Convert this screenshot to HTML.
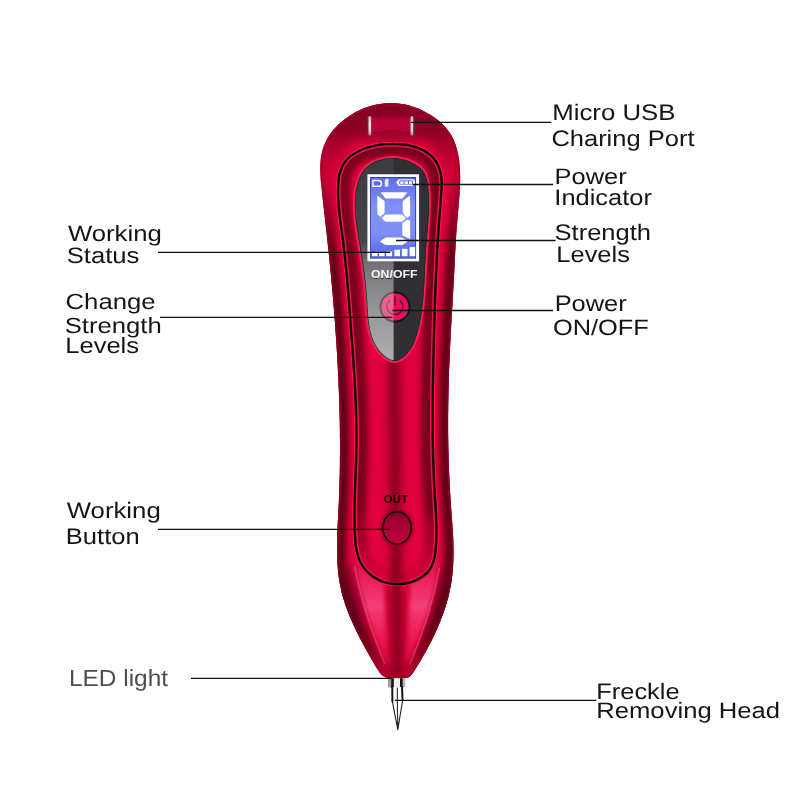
<!DOCTYPE html>
<html><head><meta charset="utf-8">
<style>
html,body{margin:0;padding:0;background:#fff;}
body{width:800px;height:800px;position:relative;overflow:hidden;font-family:"Liberation Sans",sans-serif;}
svg{position:absolute;left:0;top:0;}
.t{position:absolute;white-space:nowrap;color:#1c1c1c;transform-origin:0 0;line-height:1;}
</style></head><body>
<svg width="800" height="800" viewBox="0 0 800 800">
<defs>
<path id="pb" d="M391.0,103.1 C388.6,103.1 386.3,103.2 383.9,103.5 C381.6,103.7 379.2,104.1 376.9,104.5 C374.6,105.0 372.3,105.6 370.1,106.3 C367.8,107.0 365.6,107.8 363.4,108.6 C361.2,109.5 359.0,110.5 356.9,111.6 C354.8,112.7 352.7,113.9 350.7,115.2 C348.7,116.4 346.7,117.8 344.8,119.2 C342.9,120.6 341.1,122.1 339.3,123.7 C337.6,125.3 335.9,127.0 334.4,128.7 C332.8,130.5 331.3,132.4 330.0,134.3 C328.7,136.2 327.4,138.3 326.4,140.4 C325.3,142.5 324.3,144.7 323.5,146.9 C322.7,149.2 322.1,151.5 321.6,153.7 C321.1,156.0 320.8,158.3 320.6,160.7 C320.3,163.0 320.3,165.4 320.2,167.7 C320.2,170.1 320.3,172.5 320.4,174.8 C320.5,177.2 320.7,179.6 320.9,182.0 C321.2,184.4 321.4,186.7 321.7,189.1 C321.9,191.5 322.2,193.9 322.4,196.2 C322.7,198.6 322.9,200.9 323.2,203.3 C323.5,205.6 323.7,208.0 324.0,210.3 C324.3,212.7 324.5,215.0 324.8,217.4 C325.1,219.7 325.3,222.0 325.6,224.4 C325.9,226.7 326.1,229.1 326.4,231.4 C326.6,233.8 326.9,236.1 327.2,238.5 C327.4,240.8 327.7,243.2 327.9,245.5 C328.2,247.9 328.4,250.2 328.7,252.6 C328.9,254.9 329.1,257.3 329.4,259.6 C329.6,262.0 329.8,264.3 330.1,266.7 C330.3,269.1 330.5,271.4 330.8,273.8 C331.0,276.1 331.2,278.5 331.4,280.9 C331.6,283.2 331.9,285.6 332.1,287.9 C332.3,290.3 332.5,292.7 332.7,295.0 C332.9,297.4 333.1,299.7 333.3,302.1 C333.5,304.5 333.7,306.8 333.9,309.2 C334.1,311.6 334.3,313.9 334.5,316.3 C334.6,318.7 334.8,321.0 335.0,323.4 C335.2,325.7 335.3,328.1 335.5,330.5 C335.7,332.8 335.8,335.2 336.0,337.6 C336.2,339.9 336.3,342.3 336.5,344.7 C336.6,347.0 336.8,349.4 336.9,351.7 C337.0,354.1 337.2,356.5 337.3,358.8 C337.5,361.2 337.6,363.6 337.7,365.9 C337.8,368.3 338.0,370.6 338.1,373.0 C338.2,375.4 338.3,377.7 338.4,380.1 C338.5,382.4 338.6,384.8 338.7,387.2 C338.8,389.5 338.9,391.9 339.0,394.2 C339.1,396.6 339.2,399.0 339.2,401.3 C339.3,403.7 339.4,406.1 339.4,408.4 C339.5,410.8 339.6,413.1 339.6,415.5 C339.7,417.9 339.7,420.2 339.8,422.6 C339.8,424.9 339.8,427.3 339.9,429.7 C339.9,432.0 339.9,434.4 339.9,436.8 C340.0,439.1 340.0,441.5 340.0,443.9 C340.0,446.2 340.0,448.6 340.0,450.9 C340.0,453.3 340.0,455.7 339.9,458.0 C339.9,460.4 339.9,462.8 339.9,465.1 C339.8,467.5 339.8,469.9 339.8,472.2 C339.7,474.6 339.7,477.0 339.6,479.4 C339.5,481.7 339.5,484.1 339.4,486.5 C339.3,488.8 339.2,491.2 339.2,493.6 C339.1,496.0 339.0,498.3 338.9,500.7 C338.8,503.1 338.7,505.5 338.5,507.8 C338.4,510.2 338.3,512.6 338.2,515.0 C338.1,517.4 337.9,519.7 337.8,522.1 C337.7,524.5 337.6,526.9 337.5,529.2 C337.4,531.6 337.3,534.0 337.2,536.4 C337.1,538.7 337.1,541.1 337.1,543.5 C337.0,545.8 337.0,548.2 337.0,550.6 C337.1,552.9 337.1,555.3 337.2,557.6 C337.3,560.0 337.4,562.3 337.5,564.7 C337.7,567.0 337.9,569.4 338.1,571.7 C338.4,574.0 338.7,576.3 339.0,578.7 C339.4,581.0 339.7,583.3 340.2,585.6 C340.7,587.9 341.2,590.2 341.7,592.5 C342.3,594.8 342.9,597.1 343.6,599.3 C344.3,601.6 345.1,603.9 345.8,606.1 C346.6,608.4 347.5,610.6 348.3,612.8 C349.2,615.1 350.1,617.3 351.1,619.5 C352.0,621.7 353.0,623.9 354.0,626.0 C355.0,628.2 356.0,630.3 357.1,632.4 C358.1,634.6 359.2,636.7 360.2,638.8 C361.3,640.9 362.4,642.9 363.5,645.0 C364.6,647.1 365.7,649.1 366.8,651.1 C368.0,653.2 369.1,655.2 370.3,657.3 C371.5,659.3 372.7,661.4 373.9,663.4 C375.2,665.5 376.4,667.7 377.7,669.6 C379.0,671.6 380.2,673.9 382.0,675.3 C383.7,676.7 386.0,677.5 388.2,678.0 C390.4,678.6 393.0,678.6 395.4,678.6 C397.8,678.7 400.3,678.7 402.6,678.5 C404.9,678.2 407.4,678.2 409.3,677.1 C411.1,675.9 412.3,673.5 413.7,671.7 C415.1,669.8 416.3,667.7 417.5,665.7 C418.8,663.7 420.0,661.7 421.2,659.7 C422.4,657.6 423.6,655.6 424.7,653.5 C425.9,651.4 427.0,649.3 428.1,647.2 C429.3,645.1 430.3,643.0 431.4,640.9 C432.5,638.8 433.5,636.7 434.5,634.5 C435.5,632.4 436.5,630.2 437.5,628.0 C438.4,625.8 439.3,623.7 440.2,621.5 C441.1,619.3 442.0,617.0 442.8,614.8 C443.6,612.6 444.3,610.4 445.1,608.1 C445.8,605.9 446.5,603.6 447.1,601.3 C447.8,599.1 448.4,596.8 448.9,594.5 C449.5,592.2 450.0,589.9 450.4,587.6 C450.9,585.2 451.3,582.9 451.6,580.6 C452.0,578.2 452.2,575.9 452.5,573.5 C452.7,571.2 452.9,568.8 453.1,566.4 C453.2,564.1 453.3,561.7 453.4,559.3 C453.5,557.0 453.5,554.6 453.5,552.2 C453.5,549.9 453.5,547.5 453.4,545.1 C453.4,542.8 453.3,540.4 453.2,538.0 C453.1,535.7 452.9,533.3 452.8,531.0 C452.6,528.6 452.5,526.2 452.3,523.9 C452.1,521.5 452.0,519.2 451.8,516.8 C451.6,514.4 451.4,512.1 451.3,509.7 C451.1,507.4 450.9,505.0 450.8,502.6 C450.6,500.3 450.4,497.9 450.3,495.6 C450.1,493.2 450.0,490.8 449.9,488.5 C449.7,486.1 449.6,483.7 449.5,481.4 C449.4,479.0 449.3,476.6 449.2,474.3 C449.1,471.9 449.0,469.5 448.9,467.2 C448.8,464.8 448.7,462.4 448.7,460.1 C448.6,457.7 448.5,455.3 448.5,453.0 C448.4,450.6 448.3,448.2 448.3,445.9 C448.3,443.5 448.2,441.1 448.2,438.8 C448.2,436.4 448.1,434.0 448.1,431.7 C448.1,429.3 448.1,426.9 448.1,424.6 C448.1,422.2 448.1,419.8 448.1,417.5 C448.1,415.1 448.1,412.7 448.2,410.4 C448.2,408.0 448.2,405.6 448.3,403.3 C448.3,400.9 448.3,398.5 448.4,396.2 C448.4,393.8 448.5,391.4 448.5,389.1 C448.6,386.7 448.7,384.3 448.7,382.0 C448.8,379.6 448.9,377.2 448.9,374.9 C449.0,372.5 449.1,370.2 449.2,367.8 C449.3,365.4 449.4,363.1 449.5,360.7 C449.6,358.3 449.7,356.0 449.8,353.6 C449.9,351.2 450.0,348.9 450.1,346.5 C450.2,344.1 450.3,341.8 450.5,339.4 C450.6,337.0 450.7,334.7 450.8,332.3 C451.0,330.0 451.1,327.6 451.2,325.2 C451.4,322.9 451.5,320.5 451.6,318.1 C451.8,315.8 451.9,313.4 452.0,311.0 C452.2,308.7 452.3,306.3 452.5,303.9 C452.6,301.6 452.7,299.2 452.9,296.9 C453.0,294.5 453.1,292.1 453.3,289.8 C453.4,287.4 453.5,285.0 453.7,282.7 C453.8,280.3 453.9,277.9 454.0,275.6 C454.2,273.2 454.3,270.9 454.4,268.5 C454.5,266.1 454.6,263.8 454.7,261.4 C454.9,259.0 455.0,256.7 455.1,254.3 C455.2,252.0 455.3,249.6 455.5,247.2 C455.6,244.9 455.7,242.5 455.9,240.2 C456.0,237.8 456.2,235.4 456.3,233.1 C456.5,230.7 456.7,228.3 456.9,226.0 C457.1,223.6 457.3,221.3 457.5,218.9 C457.7,216.5 457.9,214.2 458.1,211.8 C458.3,209.4 458.5,207.1 458.7,204.7 C458.9,202.4 459.1,200.0 459.3,197.6 C459.5,195.3 459.6,192.9 459.7,190.5 C459.9,188.2 460.0,185.8 460.1,183.5 C460.1,181.1 460.2,178.7 460.2,176.4 C460.2,174.0 460.1,171.7 460.0,169.3 C459.9,167.0 459.7,164.6 459.4,162.3 C459.1,159.9 458.8,157.6 458.3,155.3 C457.9,153.0 457.3,150.6 456.7,148.3 C456.0,146.0 455.3,143.7 454.3,141.5 C453.4,139.3 452.4,137.2 451.2,135.1 C450.0,133.1 448.7,131.2 447.2,129.4 C445.7,127.5 444.1,125.8 442.4,124.2 C440.7,122.6 438.9,121.1 437.1,119.6 C435.2,118.1 433.3,116.8 431.3,115.5 C429.3,114.2 427.2,113.0 425.1,111.9 C423.0,110.8 420.8,109.8 418.6,108.8 C416.4,107.9 414.2,107.1 411.9,106.4 C409.7,105.7 407.4,105.1 405.0,104.6 C402.7,104.1 400.4,103.8 398.0,103.5 C395.7,103.3 393.3,103.1 391.0,103.1Z"/>
<path id="pg" d="M395.0,144.1 C392.4,144.0 389.7,144.0 387.1,144.1 C384.5,144.3 382.0,144.5 379.4,144.8 C376.9,145.2 374.3,145.6 371.9,146.3 C369.4,146.9 366.9,147.6 364.5,148.5 C362.1,149.4 359.8,150.5 357.5,151.7 C355.2,152.9 353.0,154.3 350.9,155.9 C348.9,157.5 347.0,159.3 345.5,161.2 C343.9,163.1 342.7,165.2 341.7,167.5 C340.7,169.7 340.0,172.1 339.4,174.6 C338.9,177.0 338.6,179.6 338.4,182.2 C338.1,184.8 338.1,187.4 338.0,190.0 C338.0,192.5 338.0,195.1 338.1,197.7 C338.2,200.3 338.4,202.8 338.6,205.4 C338.8,207.9 339.1,210.5 339.3,213.0 C339.6,215.6 339.9,218.1 340.3,220.7 C340.6,223.2 340.9,225.7 341.3,228.3 C341.6,230.8 342.0,233.3 342.3,235.9 C342.7,238.4 343.0,240.9 343.3,243.5 C343.6,246.0 343.9,248.5 344.2,251.1 C344.5,253.6 344.8,256.2 345.1,258.7 C345.3,261.2 345.6,263.8 345.8,266.3 C346.1,268.9 346.3,271.4 346.6,273.9 C346.8,276.5 347.0,279.0 347.3,281.6 C347.5,284.1 347.7,286.7 347.9,289.2 C348.1,291.7 348.3,294.3 348.5,296.8 C348.7,299.4 348.9,301.9 349.1,304.5 C349.3,307.0 349.5,309.6 349.7,312.1 C349.9,314.7 350.1,317.2 350.3,319.8 C350.5,322.3 350.7,324.9 350.8,327.4 C351.0,330.0 351.2,332.5 351.4,335.1 C351.6,337.6 351.8,340.2 352.0,342.7 C352.2,345.3 352.4,347.9 352.6,350.4 C352.7,353.0 352.9,355.5 353.1,358.1 C353.3,360.6 353.5,363.2 353.6,365.8 C353.8,368.3 354.0,370.9 354.1,373.4 C354.3,376.0 354.5,378.5 354.6,381.1 C354.7,383.6 354.9,386.2 355.0,388.8 C355.2,391.3 355.3,393.9 355.4,396.4 C355.5,399.0 355.6,401.5 355.7,404.1 C355.8,406.7 355.9,409.2 356.0,411.8 C356.1,414.3 356.2,416.9 356.2,419.4 C356.3,422.0 356.3,424.5 356.4,427.1 C356.4,429.6 356.4,432.2 356.4,434.8 C356.4,437.3 356.4,439.9 356.4,442.4 C356.4,445.0 356.4,447.5 356.3,450.1 C356.3,452.6 356.2,455.2 356.1,457.7 C356.1,460.3 356.0,462.8 355.9,465.3 C355.8,467.9 355.7,470.4 355.6,473.0 C355.5,475.5 355.4,478.1 355.3,480.6 C355.2,483.2 355.1,485.7 355.0,488.3 C354.9,490.8 354.8,493.4 354.7,496.0 C354.6,498.5 354.6,501.1 354.5,503.6 C354.5,506.2 354.4,508.8 354.4,511.3 C354.4,513.9 354.4,516.5 354.4,519.0 C354.4,521.6 354.5,524.2 354.5,526.8 C354.6,529.3 354.7,531.9 354.9,534.5 C355.0,537.1 355.2,539.7 355.4,542.3 C355.7,544.8 356.0,547.4 356.5,549.8 C357.0,552.3 357.5,554.8 358.3,557.1 C359.2,559.4 360.1,561.7 361.3,563.9 C362.5,566.0 363.9,568.1 365.6,570.0 C367.3,571.8 369.2,573.6 371.2,575.2 C373.3,576.8 375.5,578.2 377.8,579.4 C380.2,580.6 382.6,581.6 385.1,582.4 C387.6,583.1 390.2,583.7 392.8,584.0 C395.3,584.3 397.9,584.3 400.5,584.2 C403.1,584.0 405.6,583.6 408.1,583.0 C410.6,582.4 413.1,581.6 415.4,580.6 C417.8,579.5 420.1,578.3 422.2,576.8 C424.3,575.4 426.3,573.7 427.9,571.9 C429.5,570.0 430.8,567.9 431.9,565.8 C433.0,563.6 433.7,561.2 434.3,558.8 C435.0,556.4 435.3,553.8 435.6,551.2 C435.9,548.7 436.0,546.0 436.2,543.4 C436.3,540.8 436.4,538.2 436.4,535.7 C436.4,533.1 436.4,530.5 436.4,527.9 C436.4,525.4 436.3,522.8 436.2,520.3 C436.1,517.7 436.0,515.2 435.9,512.6 C435.8,510.1 435.6,507.5 435.5,505.0 C435.3,502.4 435.1,499.9 435.0,497.4 C434.8,494.8 434.7,492.3 434.5,489.7 C434.4,487.2 434.2,484.7 434.1,482.1 C434.0,479.6 433.9,477.0 433.8,474.5 C433.6,471.9 433.5,469.4 433.5,466.8 C433.4,464.3 433.3,461.7 433.2,459.2 C433.1,456.6 433.1,454.0 433.0,451.5 C432.9,448.9 432.9,446.4 432.9,443.8 C432.8,441.2 432.8,438.7 432.7,436.1 C432.7,433.5 432.7,431.0 432.7,428.4 C432.7,425.8 432.7,423.3 432.7,420.7 C432.7,418.1 432.7,415.6 432.7,413.0 C432.7,410.4 432.7,407.9 432.7,405.3 C432.7,402.7 432.7,400.2 432.8,397.6 C432.8,395.0 432.8,392.5 432.9,389.9 C432.9,387.3 432.9,384.8 433.0,382.2 C433.0,379.6 433.1,377.1 433.1,374.5 C433.2,372.0 433.2,369.4 433.3,366.8 C433.3,364.3 433.4,361.7 433.4,359.2 C433.5,356.6 433.6,354.1 433.6,351.5 C433.7,348.9 433.7,346.4 433.8,343.8 C433.9,341.3 433.9,338.7 434.0,336.2 C434.1,333.7 434.1,331.1 434.2,328.6 C434.3,326.0 434.3,323.5 434.4,320.9 C434.5,318.4 434.6,315.9 434.6,313.3 C434.7,310.8 434.8,308.2 434.9,305.7 C435.0,303.1 435.0,300.6 435.1,298.1 C435.2,295.5 435.3,293.0 435.4,290.4 C435.5,287.9 435.6,285.4 435.7,282.8 C435.8,280.3 435.9,277.7 436.0,275.2 C436.1,272.6 436.3,270.1 436.4,267.5 C436.5,265.0 436.6,262.4 436.8,259.9 C436.9,257.3 437.0,254.8 437.2,252.2 C437.3,249.7 437.4,247.1 437.6,244.5 C437.7,242.0 437.9,239.4 438.1,236.8 C438.2,234.3 438.4,231.7 438.6,229.1 C438.7,226.6 438.9,224.0 439.1,221.4 C439.3,218.8 439.5,216.2 439.7,213.6 C439.9,211.1 440.1,208.5 440.3,205.9 C440.5,203.3 440.7,200.7 440.9,198.1 C441.1,195.5 441.4,192.9 441.5,190.3 C441.6,187.7 441.8,185.1 441.7,182.6 C441.6,180.1 441.5,177.6 441.1,175.2 C440.7,172.8 440.2,170.4 439.3,168.1 C438.5,165.8 437.4,163.6 436.0,161.5 C434.6,159.5 432.9,157.5 431.0,155.7 C429.2,154.0 427.1,152.4 424.9,151.1 C422.8,149.7 420.4,148.7 418.0,147.8 C415.7,146.9 413.2,146.2 410.6,145.7 C408.1,145.1 405.5,144.8 402.9,144.5 C400.3,144.2 397.6,144.1 395.0,144.1Z"/>
<path id="pp" d="M393.8,158.0 C392.0,158.0 390.2,158.0 388.4,158.2 C386.6,158.4 384.8,158.7 383.0,159.1 C381.2,159.5 379.4,160.0 377.7,160.6 C376.0,161.3 374.3,162.0 372.8,162.8 C371.2,163.7 369.7,164.6 368.3,165.7 C366.9,166.7 365.6,167.9 364.5,169.2 C363.4,170.5 362.4,171.9 361.5,173.4 C360.6,174.8 359.9,176.4 359.3,178.0 C358.6,179.6 358.1,181.3 357.6,182.9 C357.1,184.6 356.7,186.3 356.4,188.0 C356.0,189.7 355.8,191.4 355.5,193.1 C355.3,194.8 355.2,196.5 355.0,198.3 C354.9,200.0 354.9,201.7 354.9,203.5 C354.8,205.2 354.9,207.0 354.9,208.7 C355.0,210.5 355.1,212.2 355.3,214.0 C355.4,215.8 355.6,217.5 355.8,219.3 C355.9,221.1 356.2,222.8 356.4,224.6 C356.6,226.4 356.9,228.1 357.2,229.9 C357.4,231.6 357.7,233.4 358.0,235.2 C358.3,236.9 358.5,238.7 358.8,240.4 C359.1,242.2 359.4,243.9 359.7,245.7 C359.9,247.4 360.2,249.1 360.5,250.9 C360.8,252.6 361.0,254.3 361.3,256.1 C361.6,257.8 361.8,259.5 362.1,261.3 C362.3,263.0 362.6,264.7 362.8,266.4 C363.1,268.1 363.3,269.9 363.5,271.6 C363.8,273.3 364.0,275.0 364.2,276.8 C364.4,278.5 364.6,280.2 364.8,281.9 C365.0,283.7 365.2,285.4 365.3,287.1 C365.5,288.9 365.7,290.6 365.8,292.3 C366.0,294.1 366.1,295.8 366.2,297.6 C366.4,299.3 366.5,301.1 366.6,302.8 C366.7,304.6 366.7,306.3 366.9,308.1 C367.0,309.9 367.1,311.6 367.2,313.4 C367.3,315.1 367.5,316.9 367.6,318.6 C367.8,320.4 368.0,322.1 368.3,323.9 C368.5,325.6 368.8,327.4 369.2,329.1 C369.5,330.8 369.9,332.5 370.4,334.2 C370.9,335.9 371.5,337.6 372.1,339.2 C372.7,340.8 373.4,342.4 374.2,344.0 C375.0,345.6 375.9,347.1 376.9,348.5 C377.9,350.0 379.0,351.4 380.2,352.7 C381.4,354.0 382.7,355.3 384.1,356.4 C385.5,357.6 387.1,358.7 388.6,359.4 C390.2,360.2 391.8,360.8 393.4,360.9 C395.0,361.1 396.6,360.9 398.1,360.4 C399.6,359.9 401.1,359.1 402.5,358.1 C403.9,357.1 405.3,355.8 406.5,354.4 C407.8,353.1 408.9,351.6 410.0,350.1 C411.0,348.5 411.9,347.0 412.8,345.4 C413.6,343.8 414.3,342.2 414.9,340.5 C415.6,338.9 416.2,337.3 416.7,335.6 C417.2,333.9 417.6,332.3 418.1,330.6 C418.5,328.9 418.9,327.2 419.3,325.5 C419.6,323.8 420.0,322.1 420.3,320.4 C420.6,318.7 420.9,317.0 421.2,315.3 C421.5,313.5 421.7,311.8 421.9,310.1 C422.2,308.4 422.4,306.6 422.6,304.9 C422.8,303.2 422.9,301.4 423.1,299.7 C423.3,297.9 423.4,296.2 423.6,294.4 C423.7,292.7 423.8,290.9 423.9,289.2 C424.0,287.4 424.2,285.7 424.3,283.9 C424.4,282.2 424.4,280.4 424.5,278.6 C424.6,276.9 424.7,275.1 424.8,273.4 C424.9,271.6 425.0,269.8 425.0,268.1 C425.1,266.3 425.2,264.6 425.3,262.8 C425.4,261.0 425.5,259.3 425.6,257.5 C425.7,255.8 425.8,254.0 425.9,252.3 C426.0,250.5 426.1,248.7 426.2,247.0 C426.4,245.2 426.5,243.5 426.6,241.8 C426.8,240.0 426.9,238.3 427.1,236.5 C427.2,234.8 427.4,233.0 427.5,231.3 C427.7,229.5 427.8,227.8 427.9,226.1 C428.1,224.3 428.2,222.6 428.3,220.8 C428.4,219.1 428.5,217.3 428.6,215.6 C428.7,213.9 428.8,212.1 428.8,210.4 C428.9,208.6 428.9,206.9 428.9,205.1 C428.9,203.3 428.9,201.6 428.9,199.8 C428.8,198.1 428.8,196.3 428.7,194.5 C428.6,192.8 428.5,191.0 428.3,189.2 C428.1,187.5 428.0,185.7 427.7,183.9 C427.4,182.1 427.2,180.4 426.7,178.7 C426.2,177.0 425.7,175.4 424.9,173.9 C424.2,172.4 423.2,170.9 422.1,169.7 C421.0,168.4 419.5,167.3 418.1,166.2 C416.7,165.2 415.1,164.3 413.6,163.4 C412.0,162.6 410.4,161.8 408.8,161.2 C407.2,160.5 405.6,160.0 404.0,159.5 C402.4,159.1 400.7,158.7 399.0,158.4 C397.3,158.2 395.6,158.0 393.8,158.0Z"/>
<clipPath id="cb"><use href="#pb"/></clipPath>
<clipPath id="cg"><use href="#pg"/></clipPath>
<clipPath id="cp"><use href="#pp"/></clipPath>
<clipPath id="cbtn"><circle cx="395" cy="307" r="15.4"/></clipPath>
<clipPath id="cpl"><rect x="300" y="100" width="93.8" height="300"/></clipPath>
<filter id="b2" filterUnits="userSpaceOnUse" x="0" y="0" width="800" height="800"><feGaussianBlur stdDeviation="2"/></filter>
<filter id="b3" filterUnits="userSpaceOnUse" x="0" y="0" width="800" height="800"><feGaussianBlur stdDeviation="3"/></filter>
<filter id="b4" filterUnits="userSpaceOnUse" x="0" y="0" width="800" height="800"><feGaussianBlur stdDeviation="4"/></filter>
<filter id="b5" filterUnits="userSpaceOnUse" x="0" y="0" width="800" height="800"><feGaussianBlur stdDeviation="5"/></filter>
<filter id="b1" filterUnits="userSpaceOnUse" x="0" y="0" width="800" height="800"><feGaussianBlur stdDeviation="1"/></filter>
<filter id="b05" filterUnits="userSpaceOnUse" x="0" y="0" width="800" height="800"><feGaussianBlur stdDeviation="0.5"/></filter>
<linearGradient id="edgefade" gradientUnits="userSpaceOnUse" x1="0" y1="150" x2="0" y2="680">
<stop offset="0" stop-color="#5c0012" stop-opacity="0"/><stop offset="0.2075" stop-color="#5c0012" stop-opacity="1"/><stop offset="0.9" stop-color="#5c0012" stop-opacity="1"/><stop offset="1" stop-color="#5c0012" stop-opacity="0.2"/>
</linearGradient>
<linearGradient id="headfade" gradientUnits="userSpaceOnUse" x1="0" y1="122" x2="0" y2="176">
<stop offset="0" stop-color="#820020" stop-opacity="1"/><stop offset="1" stop-color="#820020" stop-opacity="0"/>
</linearGradient>
<linearGradient id="facet" gradientUnits="userSpaceOnUse" x1="0" y1="556" x2="0" y2="668">
<stop offset="0" stop-color="#f03a74" stop-opacity="0"/><stop offset="0.2" stop-color="#f23c76" stop-opacity="0.55"/><stop offset="0.45" stop-color="#f5427c" stop-opacity="0.95"/><stop offset="0.75" stop-color="#f0205c" stop-opacity="0.7"/><stop offset="1" stop-color="#e80c48" stop-opacity="0.3"/>
</linearGradient>
<linearGradient id="outg" x1="0" y1="0" x2="0" y2="1">
<stop offset="0" stop-color="#8a002c"/><stop offset="0.5" stop-color="#ad0036"/><stop offset="1" stop-color="#c2003c"/>
</linearGradient>
<linearGradient id="usbbar" x1="0" y1="0" x2="0" y2="1">
<stop offset="0" stop-color="#e9aab8"/><stop offset="0.45" stop-color="#f6e6ea"/><stop offset="0.8" stop-color="#e8c4cc"/><stop offset="1" stop-color="#9a8088"/>
</linearGradient>
<linearGradient id="ginner" gradientUnits="userSpaceOnUse" x1="0" y1="505" x2="0" y2="575">
<stop offset="0" stop-color="#78001c" stop-opacity="1"/><stop offset="1" stop-color="#78001c" stop-opacity="0.12"/>
</linearGradient>
<linearGradient id="tipdark" gradientUnits="userSpaceOnUse" x1="0" y1="566" x2="0" y2="678">
<stop offset="0" stop-color="#5c0012" stop-opacity="0.3"/><stop offset="0.3" stop-color="#5c0012" stop-opacity="0.5"/><stop offset="0.7" stop-color="#5c0012" stop-opacity="0.25"/><stop offset="1" stop-color="#5c0012" stop-opacity="0"/>
</linearGradient>
<linearGradient id="lcd" x1="0" y1="0" x2="0" y2="1">
<stop offset="0" stop-color="#5a6ee8"/><stop offset="0.35" stop-color="#7f90f8"/><stop offset="0.7" stop-color="#7c8df6"/><stop offset="1" stop-color="#5468e2"/>
</linearGradient>
<linearGradient id="pleft" gradientUnits="userSpaceOnUse" x1="0" y1="158" x2="0" y2="362">
<stop offset="0" stop-color="#fff" stop-opacity="0.06"/><stop offset="0.4" stop-color="#fff" stop-opacity="0.10"/><stop offset="0.52" stop-color="#fff" stop-opacity="0.32"/><stop offset="0.7" stop-color="#fff" stop-opacity="0.47"/><stop offset="1" stop-color="#fff" stop-opacity="0.62"/>
</linearGradient>
<radialGradient id="pbtn" cx="0.4" cy="0.45" r="0.6">
<stop offset="0" stop-color="#ff5a8a"/><stop offset="1" stop-color="#e0205c"/>
</radialGradient>
</defs>

<!-- body -->
<use href="#pb" fill="#e2003e"/>
<g clip-path="url(#cb)">
  <!-- head darkening -->
  <use href="#pb" fill="none" stroke="url(#headfade)" stroke-width="44" filter="url(#b5)"/>
  <ellipse cx="391" cy="124" rx="52" ry="19" fill="#8c0026" opacity="0.7" filter="url(#b5)"/>
  <!-- edge shading -->
  <use href="#pb" fill="none" stroke="url(#edgefade)" stroke-width="18" filter="url(#b3)"/>
  <use href="#pb" fill="none" stroke="#a00028" stroke-width="2.5" filter="url(#b1)"/>
  <!-- centre stripe -->
  <!-- tip outer dark facets -->
  <path d="M330,566 L355,566 Q364,612 388,668 L388,690 L330,690 Z" fill="url(#tipdark)" filter="url(#b3)"/>
  <path d="M462,566 L439,566 Q431,612 408,668 L408,690 L462,690 Z" fill="url(#tipdark)" filter="url(#b3)"/>
  <!-- lower pink facets -->
  <path d="M353,556 Q362,610 386,664 L391,664 Q384,620 383,556 Z" fill="url(#facet)" filter="url(#b2)"/>
  <path d="M441,556 Q432,610 409,664 L403.5,664 Q410,620 411,556 Z" fill="url(#facet)" filter="url(#b2)"/>
  <path d="M354.5,566 Q363,612 385,664" fill="none" stroke="#ff9fba" stroke-width="1.4" opacity="0.3" filter="url(#b05)"/>
  <path d="M439.5,568 Q431,614 410,664" fill="none" stroke="#ff9fba" stroke-width="1.4" opacity="0.3" filter="url(#b05)"/>
  <path d="M394,350 L395.5,520 L397.3,680" fill="none" stroke="#86001f" stroke-width="12" filter="url(#b4)"/>
</g>

<!-- groove -->
<use href="#pg" fill="none" stroke="#ff1a52" stroke-width="4.2"/>
<g clip-path="url(#cg)">
  <use href="#pg" fill="#e2003e"/>
  <use href="#pg" fill="none" stroke="url(#ginner)" stroke-width="24" filter="url(#b3)"/>
  <use href="#pg" fill="none" stroke="#ee124c" stroke-width="5.4"/>
  <path d="M394,350 L395.5,520 L397,600" fill="none" stroke="#86001f" stroke-width="12" filter="url(#b4)"/>
  <use href="#pp" fill="none" stroke="#ff1a55" stroke-width="4" filter="url(#b05)"/>
</g>
<use href="#pg" fill="none" stroke="#12000a" stroke-width="2.4"/>

<!-- panel -->
<use href="#pp" fill="#303034"/>
<g clip-path="url(#cp)">
  <rect x="340" y="150" width="53.6" height="215" fill="url(#pleft)"/>
  <use href="#pp" fill="none" stroke="#1d2a2a" stroke-width="1.6"/>
</g>

<!-- LCD -->
<rect x="367.4" y="174.3" width="51.7" height="87" fill="#ffffff"/>
<rect x="370.1" y="177" width="46" height="81.6" fill="#2a3bb4"/>
<rect x="371" y="177.9" width="44.2" height="79.8" fill="url(#lcd)"/>
<g fill="#ffffff">
  <!-- digit 9 -->
  <polygon points="380.6,192.3 407.4,192.3 402.4,198.6 385.4,198.6"/>
  <polygon points="377.3,195.4 384.6,201 384.6,213 380.5,217 377.3,214.2"/>
  <polygon points="410.1,195.4 410.1,215.5 407,218 402.7,213 402.7,201"/>
  <polygon points="381.5,218.2 385.4,214.6 402.2,214.6 406,218.2 402.2,221.8 385.4,221.8"/>
  <polygon points="410.1,220.5 410.1,239 402.3,235.2 402.3,223.4 407,219.4"/>
  <polygon points="379.8,241.4 385.7,237.5 402,237.5 407.6,241.4 402.5,245 385.5,245"/>
  <!-- bars -->
  <rect x="371.9" y="252.8" width="5.6" height="3.4"/>
  <rect x="379" y="252.8" width="5.6" height="3.4"/>
  <rect x="386.1" y="251.6" width="6" height="4.6"/>
  <rect x="394.4" y="249.7" width="5.6" height="6.5"/>
  <rect x="401.9" y="248.8" width="5.6" height="7.4"/>
  <rect x="409.6" y="247.1" width="5.6" height="9.1"/>
</g>
<!-- top icons -->
<path d="M373,180.5 H378.3 Q381.5,180.5 381.5,183.4 Q381.5,186.3 378.3,186.3 H373 Z" fill="#5a6ce0" stroke="#ffffff" stroke-width="1.4"/>
<g fill="#ffffff" opacity="0.85" filter="url(#b05)">
  <rect x="384.8" y="179.6" width="3.6" height="7"/>
  <rect x="386" y="178.8" width="2.6" height="1.4"/>
</g>
<path d="M396.2,182.6 L398.6,179.3 H412.6 Q415,179.3 415,182.6 Q415,185.9 412.6,185.9 H398.6 Z" fill="#ffffff"/>
<rect x="399.4" y="180.6" width="13.6" height="4" rx="0.8" fill="#3345c4"/>
<g fill="#ffffff">
  <rect x="400.2" y="181.3" width="3.4" height="2.6"/>
  <rect x="404.5" y="181.3" width="3.4" height="2.6"/>
  <rect x="408.8" y="181.3" width="3.4" height="2.6"/>
</g>

<!-- power button -->
<circle cx="395" cy="307" r="15.4" fill="#141416"/>
<circle cx="395" cy="307" r="13.6" fill="#ee0f5a"/>
<g fill="none" stroke="#5c1230" stroke-width="1.5" stroke-linecap="round">
  <path d="M389.6,300.6 A8,8 0 1 0 400.2,300.6"/>
  <path d="M395,296.8 V305"/>
</g>
<g clip-path="url(#cp)"><path d="M378,290 H393.6 V324 H378 Z" fill="#fff" opacity="0.33" clip-path="url(#cbtn)"/></g>

<!-- OUT button -->
<ellipse cx="397" cy="527.9" rx="17.2" ry="19" fill="#90002a" opacity="0.7" filter="url(#b1)"/>
<ellipse cx="397" cy="527.9" rx="14.2" ry="16" fill="url(#outg)" stroke="#16000a" stroke-width="1.6"/>

<!-- USB port -->
<path d="M367.6,116 H414.5 V135.2 Q391,127 367.6,135.2 Z" fill="#8a0024" filter="url(#b05)"/>
<path d="M368.4,116.6 H413.8 V134.4 Q391,126.6 368.4,134.4 Z" fill="#b80038"/>
<path d="M368.4,116.9 H413.8" stroke="#84001f" stroke-width="1.2" fill="none"/>
<path d="M368,135 Q391,127 414.2,135" fill="none" stroke="#90002a" stroke-width="1.2"/>
<rect x="367.4" y="116.4" width="1.2" height="19" fill="#5a3a40"/>
<rect x="368.5" y="116.2" width="2.6" height="19.2" rx="1" fill="url(#usbbar)"/>
<rect x="410.6" y="116.2" width="2.8" height="19.2" rx="1" fill="url(#usbbar)"/>
<rect x="413.4" y="116.4" width="1.2" height="19" fill="#5a3a40"/>

<!-- needle -->
<rect x="388.1" y="678.3" width="17.1" height="9" fill="#b4b4b4"/>
<rect x="388.1" y="678.3" width="3.2" height="9" fill="#9c9c9c"/>
<rect x="393.8" y="678.3" width="6.2" height="9" fill="#f0f0f0"/>
<rect x="391.2" y="678.3" width="2.6" height="9.6" fill="#141414"/>
<rect x="400" y="678.3" width="2.6" height="9.6" fill="#141414"/>
<path d="M392.3,687 L392.4,701.7 L397.8,729.6 L402.6,700.5 L402,687" fill="#ffffff" stroke="#222" stroke-width="1.1" stroke-linejoin="round"/>
<path d="M392.3,686 L392.4,702 M402,686 L402.6,701" fill="none" stroke="#151515" stroke-width="1.9"/>
<path d="M397.3,687.7 L397.5,712 L397.8,728" fill="none" stroke="#2a2a2a" stroke-width="1.1"/>
<path d="M397,722 L397.8,730 L398.6,722 Z" fill="#222"/>

<g font-family="Liberation Sans, sans-serif" font-weight="bold" opacity="0.99">
<text transform="translate(371.0,278) scale(1.13,1)" font-size="10.9" fill="#111" stroke="#111" stroke-width="1.6" opacity="0.8" filter="url(#b05)">ON/OFF</text>
<text transform="translate(371.0,278) scale(1.13,1)" font-size="10.9" fill="#f4f4f4">ON/OFF</text>
<text transform="translate(383.5,502.5) scale(1.0,1)" font-size="11.6" fill="#1c0008">OUT</text>
</g>
<!-- callout lines -->
<g stroke="#111" stroke-width="1.3" fill="none">
  <path d="M411,122.4 H551.4"/>
  <path d="M412.5,184.5 H553"/>
  <path d="M396,240.5 H555.6"/>
  <path d="M158,252.3 H390.3"/>
  <path d="M392.5,310.5 H553"/>
  <path d="M160,317.4 H392.5"/>
  <path d="M158,529.3 H390"/>
  <path d="M191,678.4 H391.5"/>
  <path d="M394.7,700.3 H596.3"/>
</g>
<g font-family="Liberation Sans, sans-serif" opacity="0.99" style="text-rendering:geometricPrecision">
<text transform="translate(552.25,119.70) scale(1.1452,1)" font-size="22.53" fill="#131313">Micro USB</text>
<text transform="translate(551.38,145.90) scale(1.1320,1)" font-size="22.53" fill="#131313">Charing Port</text>
<text transform="translate(554.61,183.60) scale(1.1397,1)" font-size="22.31" fill="#131313">Power</text>
<text transform="translate(554.36,204.60) scale(1.1369,1)" font-size="22.38" fill="#131313">Indicator</text>
<text transform="translate(554.56,240.20) scale(1.1331,1)" font-size="22.53" fill="#131313">Strength</text>
<text transform="translate(556.33,261.60) scale(1.1301,1)" font-size="22.53" fill="#131313">Levels</text>
<text transform="translate(554.63,310.75) scale(1.1318,1)" font-size="22.46" fill="#131313">Power</text>
<text transform="translate(552.95,334.70) scale(1.1410,1)" font-size="22.24" fill="#131313">ON/OFF</text>
<text transform="translate(67.94,240.50) scale(1.1565,1)" font-size="22.24" fill="#131313">Working</text>
<text transform="translate(66.67,263.20) scale(1.1460,1)" font-size="22.38" fill="#131313">Status</text>
<text transform="translate(65.56,309.20) scale(1.1716,1)" font-size="21.95" fill="#131313">Change</text>
<text transform="translate(64.71,332.70) scale(1.1703,1)" font-size="21.95" fill="#131313">Strength</text>
<text transform="translate(65.28,353.20) scale(1.1470,1)" font-size="22.24" fill="#131313">Levels</text>
<text transform="translate(66.73,517.90) scale(1.1508,1)" font-size="22.38" fill="#131313">Working</text>
<text transform="translate(65.83,544.10) scale(1.1333,1)" font-size="22.53" fill="#131313">Button</text>
<text transform="translate(68.95,686.10) scale(1.0439,1)" font-size="23.40" fill="#4c4c4c">LED light</text>
<text transform="translate(596.36,698.50) scale(1.1339,1)" font-size="22.38" fill="#131313">Freckle</text>
<text transform="translate(596.27,717.60) scale(1.1493,1)" font-size="22.31" fill="#131313">Removing Head</text>
</g>
</svg>
</body></html>
